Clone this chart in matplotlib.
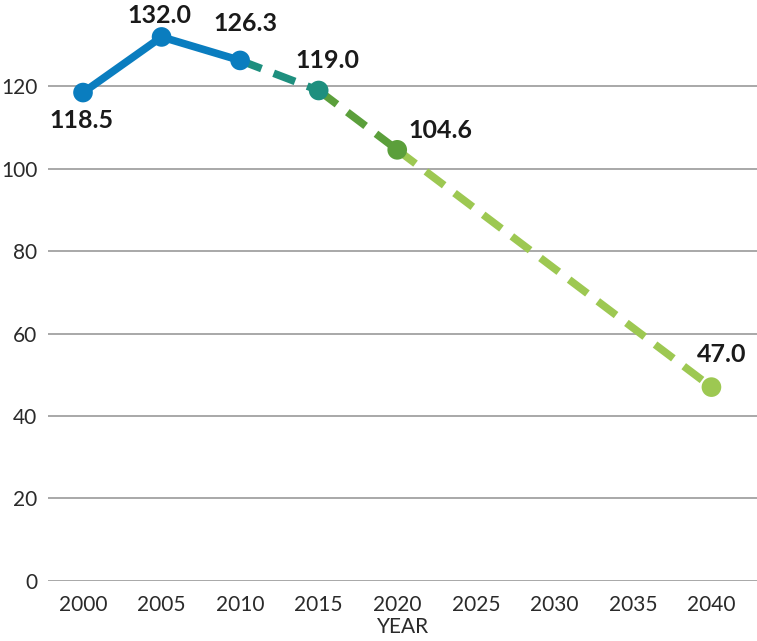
import matplotlib.pyplot as plt

years = [2000, 2005, 2010, 2015, 2020, 2040]
values = [118.5, 132.0, 126.3, 119.0, 104.6, 47.0]
point_colors = ["#0a7dbf", "#0a7dbf", "#0a7dbf", "#1e8f7e", "#5b9f3b", "#9dc852"]
# segment style: solid for historic, dashed for projections
seg_colors = ["#0a7dbf", "#0a7dbf", "#1e8f7e", "#5b9f3b", "#9dc852"]
seg_dashed = [False, False, True, True, True]
# label offsets in pixels
label_offsets = [(-2, -28), (-2, 21), (5, 37), (9, 30), (43, 19), (10, 33)]
xticks = list(range(2000, 2041, 5))
yticks = list(range(0, 121, 20))

plt.rcParams["font.family"] = ["Lato", "DejaVu Sans"]

fig = plt.figure(figsize=(7.57, 6.41), dpi=100)
ax = fig.add_axes([0.064, 0.094, 0.936, 0.903])

for i in range(len(years) - 1):
    ls = (0, (3.0, 1.7)) if seg_dashed[i] else "-"
    ax.plot(years[i:i + 2], values[i:i + 2], color=seg_colors[i], lw=5.5,
            linestyle=ls, solid_capstyle="butt", dash_capstyle="butt", zorder=3)

ax.scatter(years, values, s=200, c=point_colors, zorder=4, edgecolors="none")

for x, y, (dx, dy) in zip(years, values, label_offsets):
    ax.annotate(f"{y:.1f}", (x, y), xytext=(dx, dy), textcoords="offset pixels",
                ha="center", va="center", fontsize=18, fontweight="bold",
                color="#1a1a1a", zorder=5)

ax.set_xlim(1997.8, 2042.9)
ax.set_ylim(0, 140.5)
ax.set_xticks(xticks)
ax.set_yticks(yticks)
ax.tick_params(length=0, labelsize=15, colors="#2a2a2a", pad=10)
ax.tick_params(axis="y", pad=8)
ax.grid(axis="y", color="#999999", lw=1.2)
ax.set_axisbelow(True)
for s in ax.spines.values():
    s.set_visible(False)
ax.set_xlabel("YEAR", fontsize=15, color="#2a2a2a", labelpad=2)

fig.savefig("out.png", dpi=100)
